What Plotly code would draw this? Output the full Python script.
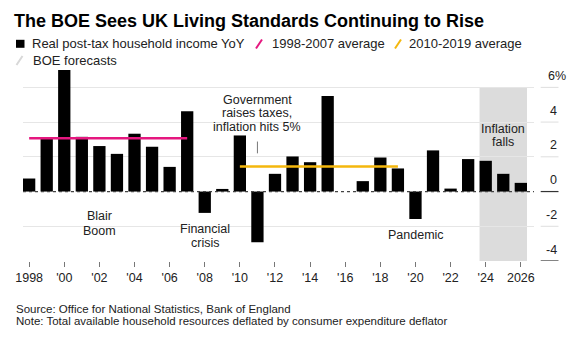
import plotly.graph_objects as go

# Real post-tax household income, year-on-year % change
years = list(range(1998, 2027))
income_yoy = [0.75, 3.04, 7.0, 3.15, 2.62, 2.17, 3.33, 2.58, 1.42, 4.63,
              -1.23, 0.15, 3.23, -2.92, 1.02, 2.02, 1.69, 5.5, 0.0, 0.6,
              1.96, 1.33, -1.58, 2.37, 0.17, 1.87, 1.77, 1.02, 0.5]

# Period averages
period_a = (1998, 2007)
period_b = (2010, 2019)
# BOE forecast years
forecast_years = (2024, 2026)

x_tick_vals = list(range(1998, 2027, 2))
x_tick_text = ["1998", "'00", "'02", "'04", "'06", "'08", "'10", "'12", "'14",
               "'16", "'18", "'20", "'22", "'24", "2026"]
y_tick_vals = [6, 4, 2, 0, -2, -4]
y_tick_text = ["6%", "4", "2", "0", "-2", "-4"]


def period_mean(p):
    vals = [v for y, v in zip(years, income_yoy) if p[0] <= y <= p[1]]
    return sum(vals) / len(vals)


avg_a = period_mean(period_a)
avg_b = period_mean(period_b)

W, H = 582, 341
L, R, T, B = 23, 48, 70, 80
PW, PH = W - L - R, H - T - B
FONT = "Liberation Sans, Arial, sans-serif"
PINK = "#e5177f"
YELLOW = "#f4b70d"
SHADE = "#dcdcdc"


def px_x(p):
    return (p - L) / PW


def px_y(p):
    return (H - B - p) / PH


fig = go.Figure()

fig.add_trace(go.Bar(x=years, y=income_yoy, width=0.7,
                     marker=dict(color="#000000", line=dict(width=0)),
                     showlegend=False, hoverinfo="x+y"))

fig.add_trace(go.Scatter(x=list(period_a), y=[avg_a, avg_a], mode="lines",
                         line=dict(color=PINK, width=2.5), showlegend=False))
fig.add_trace(go.Scatter(x=list(period_b), y=[avg_b, avg_b], mode="lines",
                         line=dict(color=YELLOW, width=2.5), showlegend=False))

shapes = []
# forecast shading
shapes.append(dict(type="rect", xref="x", yref="y",
                   x0=forecast_years[0] - 0.35, x1=forecast_years[1] + 0.35,
                   y0=-4, y1=6, fillcolor=SHADE, line=dict(width=0), layer="below"))
# dotted zero line
shapes.append(dict(type="line", xref="paper", yref="y", x0=0, x1=1, y0=0, y1=0,
                   line=dict(color="#444444", width=1.3, dash="dot"), layer="above"))
# short rules under the value labels on the right
for v in y_tick_vals:
    dark = v in (0, -4)
    shapes.append(dict(type="line", xref="paper", yref="y",
                       x0=px_x(540.7), x1=px_x(558.5), y0=v, y1=v,
                       line=dict(color="#333333" if dark else "#dedede",
                                 width=1.2 if dark else 1)))
# pointer for the 2011 annotation
shapes.append(dict(type="line", xref="x", yref="y", x0=2011, x1=2011, y0=2.2, y1=2.88,
                   line=dict(color="#777777", width=1)))

# legend markers
shapes.append(dict(type="rect", xref="paper", yref="paper",
                   x0=px_x(16), x1=px_x(24.5), y0=px_y(47.8), y1=px_y(39.8),
                   fillcolor="#000000", line=dict(width=0)))
for x0, color, yc in [(256, PINK, 44), (395, YELLOW, 44), (16.5, "#d8d8d8", 60.5)]:
    shapes.append(dict(type="line", xref="paper", yref="paper",
                       x0=px_x(x0), x1=px_x(x0 + 6), y0=px_y(yc + 4.5), y1=px_y(yc - 4.5),
                       line=dict(color=color, width=2)))

annotations = []


def note(text, x, y, xref="x", yref="y", size=12.5, anchor="center", color="#222222",
         yshift=0):
    annotations.append(dict(text=text, x=x, y=y, xref=xref, yref=yref, showarrow=False,
                            xanchor=anchor, yanchor="middle", yshift=yshift,
                            font=dict(family=FONT, size=size, color=color)))


# legend labels
note("Real post-tax household income YoY", px_x(29.5), px_y(44), "paper", "paper", 13, "left")
note("1998-2007 average", px_x(269.5), px_y(44), "paper", "paper", 13, "left")
note("2010-2019 average", px_x(407), px_y(44), "paper", "paper", 13, "left")
note("BOE forecasts", px_x(31), px_y(60.5), "paper", "paper", 13, "left")

# value axis labels on the right
for v, t in zip(y_tick_vals, y_tick_text):
    if t.endswith("%"):
        note(t, px_x(546), v, "paper", "y", 12.5, "left", "#222222", yshift=11.5)
    else:
        note(t, px_x(559), v, "paper", "y", 12.5, "right", "#222222", yshift=11.5)

# chart annotations
for text, y in [("Government", 5.27), ("raises taxes,", 4.51), ("inflation hits 5%", 3.73)]:
    note(text, 2011, y)
for text, y in [("Inflation", 3.60), ("falls", 2.84)]:
    note(text, 2025, y)
for text, y in [("Blair", -1.41), ("Boom", -2.25)]:
    note(text, 2002, y)
for text, y in [("Financial", -2.17), ("crisis", -2.98)]:
    note(text, 2008, y)
note("Pandemic", 2020.05, -2.50)

# source and note
note("Source: Office for National Statistics, Bank of England", px_x(14), px_y(308.7),
     "paper", "paper", 11.5, "left", "#222222")
note("Note: Total available household resources deflated by consumer expenditure deflator",
     px_x(14), px_y(321.3), "paper", "paper", 11.5, "left", "#222222")

fig.update_layout(
    width=W, height=H,
    margin=dict(l=L, r=R, t=T, b=B, pad=0),
    paper_bgcolor="white", plot_bgcolor="white",
    title=dict(text="<b>The BOE Sees UK Living Standards Continuing to Rise</b>",
               x=14 / W, xanchor="left", xref="container",
               y=1 - 21 / H, yanchor="middle", yref="container",
               font=dict(family=FONT, size=18, color="#000000")),
    xaxis=dict(range=[1997.65, 2026.75], tickvals=x_tick_vals, ticktext=x_tick_text,
               ticks="outside", ticklen=5, tickwidth=1, tickcolor="#777777",
               showgrid=False, zeroline=False, showline=False,
               tickfont=dict(family=FONT, size=12.5, color="#222222")),
    yaxis=dict(range=[-4, 7], tickvals=[-2, 2, 4, 6], showticklabels=False,
               showgrid=True, gridcolor="#e6e6e6", gridwidth=1,
               zeroline=False, showline=False, ticks=""),
    shapes=shapes, annotations=annotations,
    bargap=0.3, showlegend=False,
)

fig.write_html("out.html")
